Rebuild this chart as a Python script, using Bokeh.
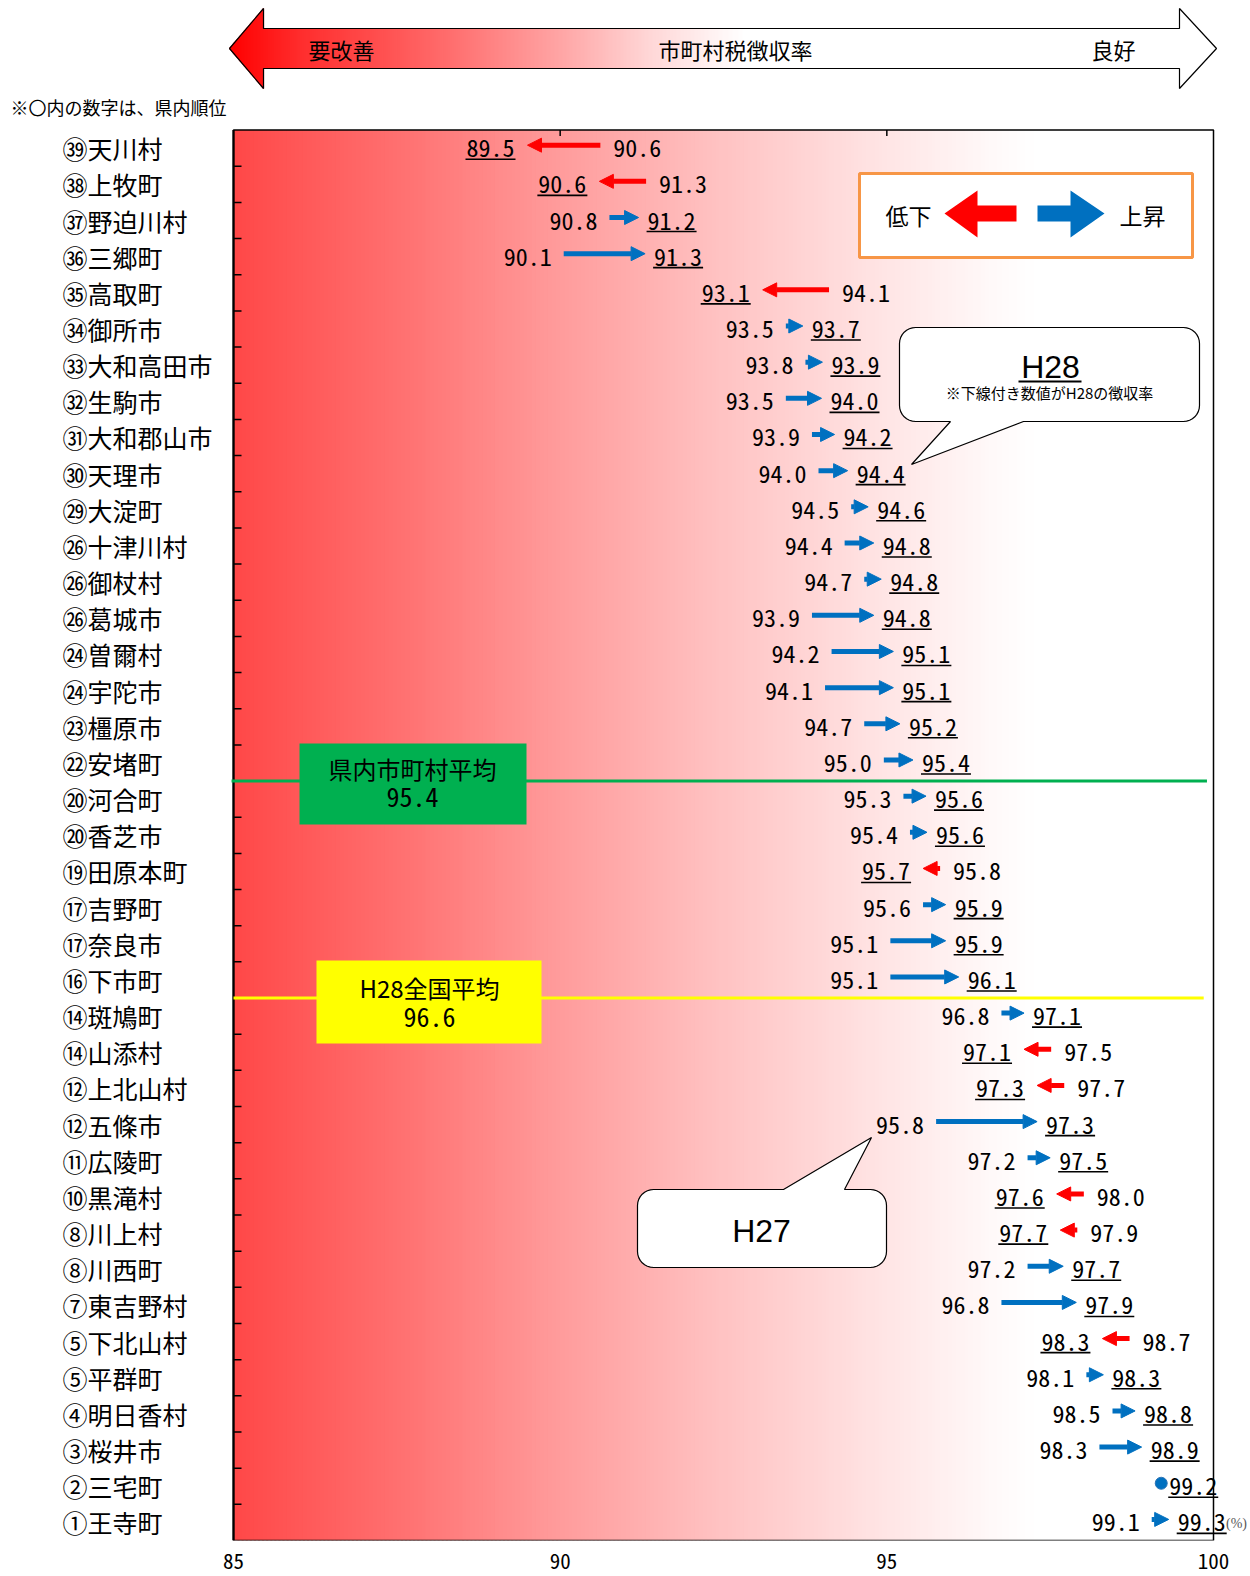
import math
import numpy as np
from bokeh.plotting import figure
from bokeh.models import Range1d, ColumnDataSource, Arrow, NormalHead, FixedTicker
from bokeh.core.properties import value
from bokeh.embed import file_html
from bokeh.resources import INLINE

# ---------------- data ----------------
municipalities = ["㊴天川村", "㊳上牧町", "㊲野迫川村", "㊱三郷町", "㉟高取町", "㉞御所市",
                  "㉝大和高田市", "㉜生駒市", "㉛大和郡山市", "㉚天理市", "㉙大淀町", "㉖十津川村",
                  "㉖御杖村", "㉖葛城市", "㉔曽爾村", "㉔宇陀市", "㉓橿原市", "㉒安堵町",
                  "⑳河合町", "⑳香芝市", "⑲田原本町", "⑰吉野町", "⑰奈良市", "⑯下市町",
                  "⑭斑鳩町", "⑭山添村", "⑫上北山村", "⑫五條市", "⑪広陵町", "⑩黒滝村",
                  "⑧川上村", "⑧川西町", "⑦東吉野村", "⑤下北山村", "⑤平群町", "④明日香村",
                  "③桜井市", "②三宅町", "①王寺町"]
rate_h27 = [90.6, 91.3, 90.8, 90.1, 94.1, 93.5, 93.8, 93.5, 93.9, 94.0,
            94.5, 94.4, 94.7, 93.9, 94.2, 94.1, 94.7, 95.0, 95.3, 95.4,
            95.8, 95.6, 95.1, 95.1, 96.8, 97.5, 97.7, 95.8, 97.2, 98.0,
            97.9, 97.2, 96.8, 98.7, 98.1, 98.5, 98.3, 99.2, 99.1]
rate_h28 = [89.5, 90.6, 91.2, 91.3, 93.1, 93.7, 93.9, 94.0, 94.2, 94.4,
            94.6, 94.8, 94.8, 94.8, 95.1, 95.1, 95.2, 95.4, 95.6, 95.6,
            95.7, 95.9, 95.9, 96.1, 97.1, 97.1, 97.3, 97.3, 97.5, 97.6,
            97.7, 97.7, 97.9, 98.3, 98.3, 98.8, 98.9, 99.2, 99.3]
pref_average = 95.4
national_average = 96.6
x_ticks = [85, 90, 95, 100]
x_min, x_max = 85, 100

# ---------------- layout (page pixels) ----------------
JP = "Noto Sans CJK JP"
MONO = "Noto Sans Mono CJK JP"
BLUE = "#0070C0"
RED = "#FF0000"
OFF = 0
W, FH = 1248, 1540
BOX_L, BOX_R, BOX_T, BOX_B = 233.0, 1213.0, 129.6, 1540.0
n = len(municipalities)
KX = (BOX_R - BOX_L) / (x_max - x_min)
KY = (BOX_B - BOX_T) / n
X0 = x_min - (BOX_L - OFF) / KX
X1 = X0 + W / KX
Y0 = -(BOX_T - OFF) / KY
Y1 = Y0 + FH / KY


def PX(px):
    return X0 + (px - OFF) / KX


def PY(py):
    return Y0 + (py - OFF) / KY


def lerp(stops, t):
    for (t0, c0), (t1, c1) in zip(stops[:-1], stops[1:]):
        if t <= t1:
            f = 0 if t1 == t0 else max(0.0, (t - t0) / (t1 - t0))
            c = [round(a + (b - a) * f) for a, b in zip(c0, c1)]
            return "#%02x%02x%02x" % tuple(c)
    return "#%02x%02x%02x" % tuple(stops[-1][1])


p = figure(frame_width=W, frame_height=FH, x_range=Range1d(X0, X1), y_range=Range1d(Y1, Y0),
           output_backend="svg", toolbar_location=None, y_axis_location=None,
           x_axis_location="below", min_border=0, min_border_bottom=34)
p.background_fill_color = None
p.border_fill_color = None
p.outline_line_color = None
p.grid.visible = False
p.xaxis.ticker = FixedTicker(ticks=x_ticks)
p.xaxis.axis_line_color = None
p.xaxis.major_tick_line_color = None
p.xaxis.minor_tick_line_color = None
p.xaxis.major_tick_in = 0
p.xaxis.major_tick_out = 0
p.xaxis.major_label_standoff = 12
p.xaxis.major_label_text_font = MONO
p.xaxis.major_label_text_font_size = "21px"
p.xaxis.major_label_text_color = "black"


def txt(px, py, s, size, align="center", font=JP, color="black"):
    p.text(x=[PX(px)], y=[PY(py)], text=[s], text_font=value(font), text_font_size=size,
           text_align=align, text_baseline="middle", text_color=color)


# ---------------- plot-area gradient ----------------
box_stops = [(0, (255, 72, 72)), (0.17, (255, 112, 112)), (0.33, (255, 155, 155)),
             (0.5, (255, 195, 195)), (0.66, (255, 228, 228)), (0.78, (255, 250, 250)),
             (0.82, (255, 255, 255)), (1, (255, 255, 255))]
ns = 240
edges = np.linspace(x_min, x_max, ns + 1)
step = edges[1] - edges[0]
cols = [lerp(box_stops, ((edges[i] + edges[i + 1]) / 2 - x_min) / (x_max - x_min)) for i in range(ns)]
p.quad(left=edges[:-1], right=np.minimum(edges[1:] + step * 0.5, x_max), top=0, bottom=n,
       fill_color=cols, line_color=None)

# ---------------- top big arrow ----------------
arrow_poly = [(229, 48), (263, 8), (263, 28), (1179, 28), (1179, 8), (1216, 48), (1179, 88),
              (1179, 68), (263, 68), (263, 88)]
p.patch([PX(a) for a, b in arrow_poly], [PY(b) for a, b in arrow_poly], fill_color="white", line_color=None)
top_stops = [(229, (255, 0, 0)), (300, (255, 45, 45)), (450, (255, 110, 110)), (560, (255, 165, 165)),
             (650, (255, 215, 215)), (720, (255, 245, 245)), (745, (255, 255, 255))]
hl, hr, hb, ht = [], [], [], []
hc = []
for px in range(229, 263):
    hh = (px + 1 - 229) / (263 - 229) * 40
    hl.append(PX(px)); hr.append(PX(px + 1.6)); ht.append(PY(48 - hh)); hb.append(PY(48 + hh))
    hc.append(lerp(top_stops, px + 0.5))
for px in range(263, 746, 2):
    hl.append(PX(px)); hr.append(PX(px + 2.8)); ht.append(PY(28)); hb.append(PY(68))
    hc.append(lerp(top_stops, px + 1))
p.quad(left=hl, right=hr, top=ht, bottom=hb, fill_color=hc, line_color=None)
p.patch([PX(a) for a, b in arrow_poly], [PY(b) for a, b in arrow_poly], fill_color=None,
        line_color="black", line_width=1.2)
txt(341, 48, "要改善", "22px")
txt(735, 48, "市町村税徴収率", "22px")
txt(1113, 48, "良好", "22px")
txt(10, 106, "※〇内の数字は、県内順位", "18px", align="left")

# ---------------- plot box, ticks ----------------
yc = np.arange(n) + 0.5
p.segment(x0=[x_min] * (n - 1), x1=[x_min + 8 / KX] * (n - 1), y0=list(range(1, n)), y1=list(range(1, n)),
          line_color="black", line_width=1.5)
inner = x_ticks[1:-1]
p.segment(x0=inner, x1=inner, y0=[0] * len(inner), y1=[6 / KY] * len(inner), line_color="black", line_width=1.5)
p.quad(left=[x_min], right=[x_max], top=[0], bottom=[n], fill_color=None, line_color="black", line_width=1.5)
p.segment(x0=[x_min], x1=[x_min], y0=[0], y1=[n], line_color="black", line_width=2.2)

# ---------------- category labels ----------------
p.text(x=[PX(62)] * n, y=yc, text=municipalities, text_font=value(JP), text_font_size="25px",
       text_align="left", text_baseline="middle", text_color="black")

# ---------------- average lines ----------------
y_pref = sum(1 for v in rate_h28 if v <= pref_average)
y_nat = sum(1 for v in rate_h28 if v <= national_average)
p.segment(x0=[x_min - 0.03], x1=[x_max - 0.1], y0=[y_pref], y1=[y_pref], line_color="#00B050", line_width=3)
p.segment(x0=[x_min], x1=[x_max - 0.15], y0=[y_nat], y1=[y_nat], line_color="#FFFF00", line_width=3)
p.quad(left=[PX(299)], right=[PX(526)], top=[PY(743)], bottom=[PY(824)], fill_color="#00B050", line_color=None)
txt(412, 768, "県内市町村平均", "24px")
txt(412, 797, f"{pref_average:.1f}", "26px", font=MONO)
p.quad(left=[PX(316)], right=[PX(541)], top=[PY(960)], bottom=[PY(1043)], fill_color="#FFFF00", line_color=None)
txt(429, 987, "H28全国平均", "24px")
txt(429, 1017, f"{national_average:.1f}", "26px", font=MONO)


# ---------------- callouts ----------------
def callout(x0, y0, x1, y1, r, tail, side):
    pts = []

    def arc(cx, cy, a0, a1):
        for t in np.linspace(a0, a1, 9):
            pts.append((cx + r * math.cos(t), cy + r * math.sin(t)))
    arc(x0 + r, y0 + r, math.pi, 1.5 * math.pi)
    if side == "top":
        pts.extend(tail)
    arc(x1 - r, y0 + r, 1.5 * math.pi, 2 * math.pi)
    arc(x1 - r, y1 - r, 0, 0.5 * math.pi)
    if side == "bottom":
        pts.extend(tail)
    arc(x0 + r, y1 - r, 0.5 * math.pi, math.pi)
    p.patch([PX(a) for a, b in pts], [PY(b) for a, b in pts], fill_color="white",
            line_color="black", line_width=1.2)


callout(899, 327, 1199, 421, 16, [(1023, 421), (911, 464), (950, 421)], "bottom")
txt(1050, 366, "H28", "32px", font="Liberation Sans")
p.segment(x0=[PX(1018)], x1=[PX(1081)], y0=[PY(381)], y1=[PY(381)], line_color="black", line_width=2)
txt(1049, 392, "※下線付き数値がH28の徴収率", "15px")
callout(637, 1189, 886, 1267, 16, [(783, 1189), (871, 1137), (844, 1189)], "top")
txt(761, 1230, "H27", "32px", font="Liberation Sans")

# ---------------- legend ----------------
p.quad(left=[PX(859)], right=[PX(1192)], top=[PY(173)], bottom=[PY(257)], fill_color="white",
       line_color="#F79646", line_width=3)
red_leg = [(944, 213), (977, 190), (977, 205), (1016, 205), (1016, 221), (977, 221), (977, 237)]
blue_leg = [(1037, 205), (1070, 205), (1070, 190), (1104, 213), (1070, 237), (1070, 221), (1037, 221)]
p.patch([PX(a) for a, b in red_leg], [PY(b) for a, b in red_leg], fill_color=RED, line_color=None)
p.patch([PX(a) for a, b in blue_leg], [PY(b) for a, b in blue_leg], fill_color=BLUE, line_color=None)
txt(908, 214, "低下", "23px")
txt(1142, 214, "上昇", "23px")

# ---------------- arrows and value labels ----------------
VAL_FS = 24
CHAR_W = VAL_FS * 0.5
MIN_LEN = 17
dy_arrow = -3 / KY
up = {"x0": [], "x1": [], "y": []}
down = {"x0": [], "x1": [], "y": []}
same_x, same_y = [], []
lx, ly, lt = [], [], []      # right-aligned labels (left of arrow)
rx, ry, rt = [], [], []      # left-aligned labels (right of arrow)
ul_x0, ul_x1, ul_y = [], [], []
for i in range(n):
    a, b, y = rate_h27[i], rate_h28[i], yc[i]
    sa, sb = f"{a:.1f}", f"{b:.1f}"
    wb = len(sb) * CHAR_W
    uy = y + 11 / KY
    if b > a:
        xs = a - 3 / KX
        xe = max(b, xs + MIN_LEN / KX)
        up["x0"].append(xs); up["x1"].append(xe); up["y"].append(y + dy_arrow)
        lx.append(xs - 12 / KX); ly.append(y); lt.append(sa)
        rx.append(xe + 9 / KX); ry.append(y); rt.append(sb)
        ul_x0.append(xe + 8 / KX); ul_x1.append(xe + (10 + wb) / KX); ul_y.append(uy)
    elif b < a:
        xs = a + 1 / KX
        xe = min(b, xs - MIN_LEN / KX)
        down["x0"].append(xs); down["x1"].append(xe); down["y"].append(y + dy_arrow)
        lx.append(xe - 13 / KX); ly.append(y); lt.append(sb)
        rx.append(xs + 13 / KX); ry.append(y); rt.append(sa)
        ul_x0.append(xe - (14 + wb) / KX); ul_x1.append(xe - 12 / KX); ul_y.append(uy)
    else:
        same_x.append(b); same_y.append(y + dy_arrow)
        rx.append(b + 8 / KX); ry.append(y); rt.append(sb)
        ul_x0.append(b + 7 / KX); ul_x1.append(b + (9 + wb) / KX); ul_y.append(uy)

p.add_layout(Arrow(end=NormalHead(size=14, fill_color=BLUE, line_color=BLUE, line_width=1),
                   x_start="x0", y_start="y", x_end="x1", y_end="y", source=ColumnDataSource(up),
                   line_color=BLUE, line_width=5))
p.add_layout(Arrow(end=NormalHead(size=14, fill_color=RED, line_color=RED, line_width=1),
                   x_start="x0", y_start="y", x_end="x1", y_end="y", source=ColumnDataSource(down),
                   line_color=RED, line_width=5))
p.scatter(x=same_x, y=same_y, size=12, fill_color=BLUE, line_color="#2E75B6")
p.text(x=lx, y=ly, text=lt, text_font=value(MONO), text_font_size=f"{VAL_FS}px", text_align="right",
       text_baseline="middle", text_color="black")
p.text(x=rx, y=ry, text=rt, text_font=value(MONO), text_font_size=f"{VAL_FS}px", text_align="left",
       text_baseline="middle", text_color="black")
p.segment(x0=ul_x0, x1=ul_x1, y0=ul_y, y1=ul_y, line_color="black", line_width=1.6)
txt(1236, 1523, "(%)", "14px", font="Liberation Serif", color="#595959")

open("out.html", "w").write(file_html(p, INLINE))
